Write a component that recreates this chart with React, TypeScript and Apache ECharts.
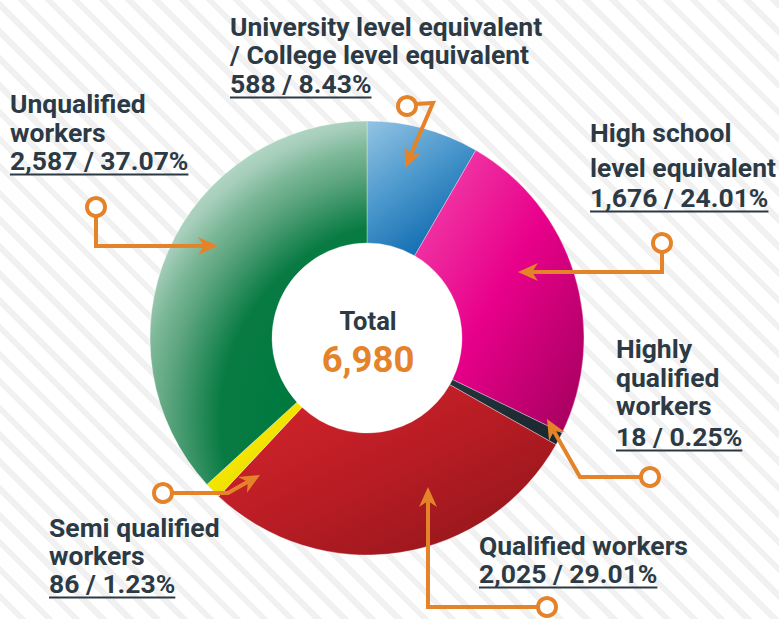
import React, { useEffect, useRef } from 'react';
import * as echarts from 'echarts';

// ---------- data ----------
const categories = [
  'University level equivalent / College level equivalent',
  'High school level equivalent',
  'Highly qualified workers',
  'Qualified workers',
  'Semi qualified workers',
  'Unqualified workers',
];
const values = [588, 1676, 18, 2025, 86, 2587];
const percentLabels = ['8.43%', '24.01%', '0.25%', '29.01%', '1.23%', '37.07%'];
const nameLines = [
  ['University level equivalent', '/ College level equivalent'],
  ['High school', 'level equivalent'],
  ['Highly', 'qualified', 'workers'],
  ['Qualified workers'],
  ['Semi qualified', 'workers'],
  ['Unqualified', 'workers'],
];
const centerTitle = 'Total';

// ---------- style / layout ----------
const W = 779;
const H = 619;
const CX = 367;
const CY = 338;
const R_IN = 95;
const R_OUT = 217;
const FONT = 'Roboto, "Noto Sans", sans-serif';
const TEXT_COLOR = '#2c3a45';
const ORANGE = '#e5832a';
const LABEL_SIZE = 26.5;

const stops = (arr: string[], offs?: number[]) =>
  arr.map((c, k) => ({ offset: offs ? offs[k] : k / (arr.length - 1), color: c }));

const segmentColors: any[] = [
  { type: 'linear', x: 0, y: 0, x2: 0.6, y2: 1, colorStops: stops(['#93c4e3', '#4a97cc', '#0b68ad']) },
  { type: 'linear', x: 0, y: 0, x2: 1, y2: 1, colorStops: stops(['#f44aae', '#e8008a', '#a0005c']) },
  { type: 'linear', x: 0, y: 0, x2: 1, y2: 1, colorStops: stops(['#24333c', '#1f2d35', '#1a262d']) },
  { type: 'linear', x: 0, y: 0, x2: 1, y2: 1, colorStops: stops(['#d8262d', '#b81c24', '#8a1519']) },
  { type: 'linear', x: 0, y: 0, x2: 1, y2: 1, colorStops: stops(['#fff200', '#f2e400', '#d4c300']) },
  {
    type: 'radial',
    global: true,
    x: CX + 53,
    y: CY + 82,
    r: 320,
    colorStops: stops(
      ['#006a37', '#007a40', '#087b43', '#5da57f', '#7cb898', '#a5cdb9', '#b4dac8'],
      [0, 0.45, 0.625, 0.79, 0.866, 0.94, 1]
    ),
  },
];

const labelLayout = [
  { x: 230, baselines: [36, 64, 93] },
  { x: 590, baselines: [142, 177, 207] },
  { x: 616, baselines: [358, 387, 415, 446] },
  { x: 479, baselines: [555, 583] },
  { x: 49, baselines: [537, 565, 593] },
  { x: 10, baselines: [113, 142, 170] },
];

const pointers = [
  { c: [407, 106], pts: [[416, 104], [433, 103], [405, 168]] },
  { c: [662, 243], pts: [[662, 252], [662, 272], [518, 272]] },
  { c: [650, 477], pts: [[641, 477], [580, 477], [547, 419]] },
  { c: [547, 607], pts: [[538, 607], [428, 607], [428, 487]] },
  { c: [163, 493], pts: [[172, 493], [228, 493], [260, 475]] },
  { c: [96, 207], pts: [[96, 216], [96, 246], [218, 246]] },
];

function measureWidth(text: string, size: number): number {
  const c = document.createElement('canvas');
  const ctx = c.getContext('2d');
  if (!ctx) return text.length * size * 0.55;
  ctx.font = `bold ${size}px ${FONT}`;
  return ctx.measureText(text).width;
}

function fmt(n: number): string {
  return n.toLocaleString('en-US');
}

function buildArrow(pts: number[][], z: number) {
  const n = pts.length;
  const tip = pts[n - 1];
  const prev = pts[n - 2];
  const dx = tip[0] - prev[0];
  const dy = tip[1] - prev[1];
  const len = Math.hypot(dx, dy);
  const ux = dx / len;
  const uy = dy / len;
  const nx = -uy;
  const ny = ux;
  const L = 20;
  const Wd = 9;
  const notch = 6;
  const back = [tip[0] - ux * L, tip[1] - uy * L];
  const inner = [tip[0] - ux * (L - notch), tip[1] - uy * (L - notch)];
  const linePts = pts.slice(0, n - 1).concat([inner]);
  return [
    {
      type: 'polyline',
      z,
      shape: { points: linePts },
      style: { stroke: ORANGE, lineWidth: 4, fill: 'none', lineJoin: 'miter' },
    },
    {
      type: 'polygon',
      z,
      shape: {
        points: [
          tip,
          [back[0] + nx * Wd, back[1] + ny * Wd],
          inner,
          [back[0] - nx * Wd, back[1] - ny * Wd],
        ],
      },
      style: { fill: ORANGE },
    },
  ];
}

export default function App() {
  const ref = useRef<HTMLDivElement>(null);

  useEffect(() => {
    document.body.style.margin = '0';
    if (!ref.current) return;
    const chart = echarts.init(ref.current, undefined, { renderer: 'svg' });

    const total = values.reduce((a, b) => a + b, 0);

    const graphics: any[] = [];

    // white center disc
    graphics.push({
      type: 'circle',
      z: 1,
      shape: { cx: CX, cy: CY, r: R_IN },
      style: { fill: '#ffffff' },
    });

    // center text
    graphics.push({
      type: 'text',
      z: 50,
      x: CX + 1,
      y: 330 - 0.34 * 25.5,
      style: {
        text: centerTitle,
        font: `bold 25.5px ${FONT}`,
        fill: TEXT_COLOR,
        align: 'center',
        verticalAlign: 'middle',
      },
    });
    graphics.push({
      type: 'text',
      z: 50,
      x: CX + 1,
      y: 372 - 0.34 * 36.5,
      style: {
        text: fmt(total),
        font: `bold 36.5px ${FONT}`,
        fill: ORANGE,
        align: 'center',
        verticalAlign: 'middle',
      },
    });

    // labels
    categories.forEach((_, i) => {
      const lay = labelLayout[i];
      const lines = nameLines[i].concat([`${fmt(values[i])} / ${percentLabels[i]}`]);
      lines.forEach((t, j) => {
        graphics.push({
          type: 'text',
          z: 50,
          x: lay.x,
          y: lay.baselines[j] - 0.34 * LABEL_SIZE,
          style: {
            text: t,
            font: `bold ${LABEL_SIZE}px ${FONT}`,
            fill: TEXT_COLOR,
            align: 'left',
            verticalAlign: 'middle',
          },
        });
      });
      const last = lines[lines.length - 1];
      const w = measureWidth(last, LABEL_SIZE);
      const uy = lay.baselines[lines.length - 1] + 4.5;
      graphics.push({
        type: 'line',
        z: 50,
        shape: { x1: lay.x, y1: uy, x2: lay.x + w, y2: uy },
        style: { stroke: TEXT_COLOR, lineWidth: 1.8 },
      });
    });

    // pointers
    pointers.forEach((p) => {
      graphics.push(...buildArrow(p.pts, 60));
      graphics.push({
        type: 'circle',
        z: 61,
        shape: { cx: p.c[0], cy: p.c[1], r: 9 },
        style: { fill: '#ffffff', stroke: ORANGE, lineWidth: 4 },
      });
    });

    chart.setOption({
      animation: false,
      backgroundColor: 'transparent',
      series: [
        {
          type: 'pie',
          center: [CX, CY],
          radius: [R_IN, R_OUT],
          startAngle: 90,
          clockwise: true,
          minAngle: 3.5,
          silent: true,
          label: { show: false },
          labelLine: { show: false },
          emphasis: { disabled: true },
          itemStyle: { borderColor: 'rgba(255,255,255,0.55)', borderWidth: 0.6 },
          data: categories.map((name, i) => ({
            name,
            value: values[i],
            itemStyle: { color: segmentColors[i] },
          })),
        },
      ],
      graphic: { elements: graphics },
    });

    return () => {
      chart.dispose();
    };
  }, []);

  return (
    <div
      style={{
        position: 'fixed',
        left: 0,
        top: 0,
        width: W,
        height: H,
        background:
          'repeating-linear-gradient(45deg, #ffffff 0px, #ffffff 13px, #f1f1f1 13px, #f1f1f1 19px)',
      }}
    >
      <div ref={ref} style={{ width: W, height: H }} />
    </div>
  );
}
